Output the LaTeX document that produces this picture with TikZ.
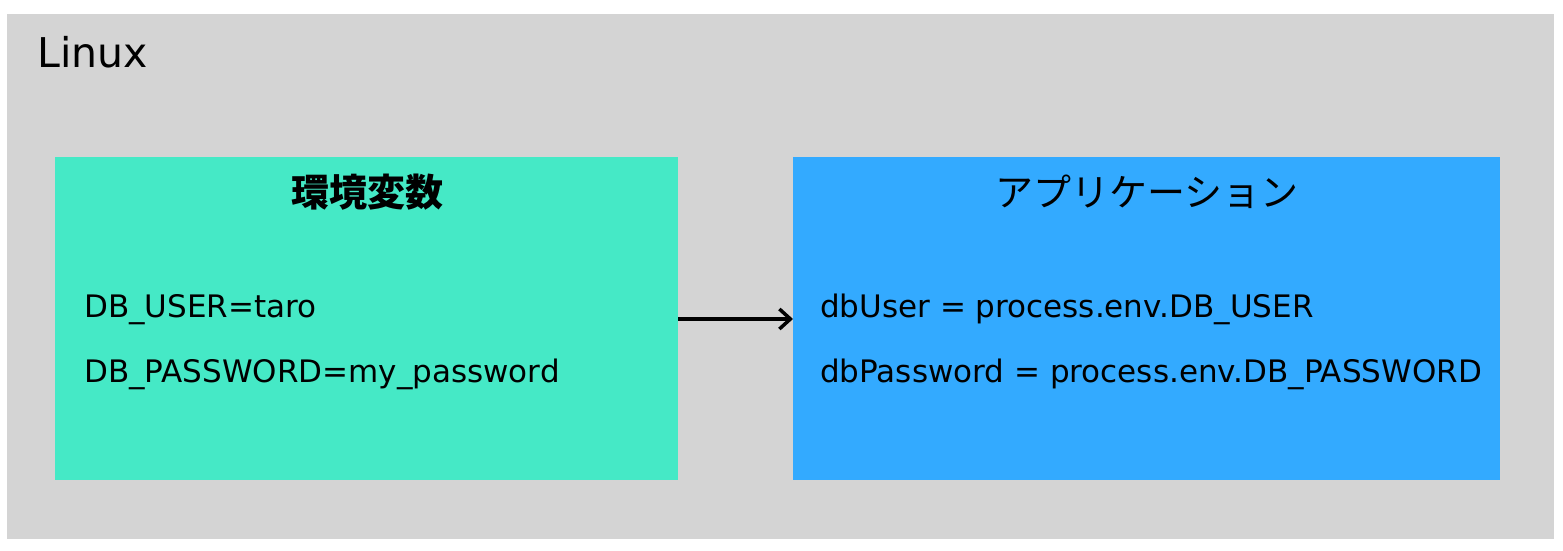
\documentclass[tikz,border=0pt]{standalone}
\usepackage{fontspec}
\setmainfont{DejaVu Sans}
\newfontfamily\jpfont{Noto Sans CJK JP}
\usetikzlibrary{arrows.meta}
\definecolor{bggray}{HTML}{D4D4D4}
\definecolor{envgreen}{HTML}{45E9C6}
\definecolor{appblue}{HTML}{33AAFF}
\tikzset{
  bodytext/.style={anchor=base west, inner sep=0pt, font=\fontsize{31}{36}\selectfont},
  titletext/.style={anchor=center, inner sep=0pt, font=\jpfont\fontsize{38}{44}\selectfont},
  flow/.style={line width=3.5pt, -{Straight Barb[length=11pt,width=20pt,line width=3.5pt]}},
}
\begin{document}
\begin{tikzpicture}[x=1pt,y=-1pt]
\useasboundingbox (0,0) rectangle (1563,550);
\fill[white] (0,0) rectangle (1563,550);
\fill[bggray] (7,14) rectangle (1554,539);
\node[anchor=base west, inner sep=0pt, font=\fontsize{41}{48}\selectfont] (linux) at (37,67) {Linux};
\path[fill=envgreen] (55,157) rectangle (678,480);
\coordinate (envR) at (678,319);
\path[fill=appblue] (793,157) rectangle (1500,480);
\coordinate (appL) at (793,319);
\node[titletext, font=\jpfont\fontsize{38}{44}\selectfont\bfseries] (envtitle) at (367,192) {環境変数};
\node[titletext] (apptitle) at (1147,192) {アプリケーション};
\node[bodytext] (u1) at (84,317) {DB\_USER=taro};
\node[bodytext] (p1) at (84,382) {DB\_PASSWORD=my\_password};
\node[bodytext] (u2) at (820,317) {dbUser = process.env.DB\_USER};
\node[bodytext] (p2) at (820,382) {dbPassword = process.env.DB\_PASSWORD};
\draw[flow] (envR) -- (appL);
\end{tikzpicture}
\end{document}
